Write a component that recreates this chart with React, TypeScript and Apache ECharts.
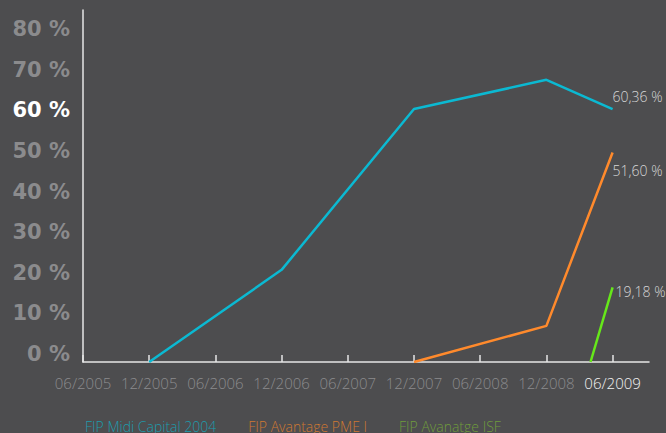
import React, { useEffect, useRef } from "react";
import * as echarts from "echarts";

// x positions are months counted from 06/2005
const xTickMonths = [0, 6, 12, 18, 24, 30, 36, 42, 48];
const xTickLabels = ["06/2005", "12/2005", "06/2006", "12/2006", "06/2007", "12/2007", "06/2008", "12/2008", "06/2009"];
const yTickValues = [0, 10, 20, 30, 40, 50, 60, 70, 80];

const seriesNames = ["FIP Midi Capital 2004", "FIP Avantage PME I", "FIP Avanatge ISF"];
const legendColors = ["#1c9cad", "#cf7832", "#6f9c3c"];
const lineColors = ["#0bb9d2", "#ff8a2c", "#66e81a"];

const midiMonths = [6, 18, 30, 42, 48];
const midiValues = [0, 22.7, 62.3, 69.5, 62.3];
const pmeMonths = [30, 42, 48];
const pmeValues = [0, 8.9, 51.6];
const isfMonths = [46, 48];
const isfValues = [0, 18.4];

const endLabels = ["60,36 %", "51,60 %", "19,18 %"];
const endLabelOffsets = [[0, -13], [0, 18], [3, 4]];

const BG = "#4d4d4f";
const GRAY = "#8b8b8d";

export default function App() {
  const ref = useRef<HTMLDivElement>(null);
  useEffect(() => {
    if (!ref.current) return;
    const chart = echarts.init(ref.current, null, { renderer: "svg" });
    const all = [
      [midiMonths, midiValues],
      [pmeMonths, pmeValues],
      [isfMonths, isfValues],
    ];
    chart.setOption({
      animation: false,
      backgroundColor: BG,
      grid: { left: 83, right: 17, top: 10, bottom: 71, containLabel: false, outerBoundsMode: "none" },
      legend: {
        left: 80,
        top: 419,
        padding: 0,
        itemWidth: 0,
        itemHeight: 14,
        itemGap: 27,
        icon: "rect",
        itemStyle: { opacity: 0 },
        textStyle: { fontFamily: "Open Sans", fontSize: 14, fontWeight: 300 },
        data: seriesNames.map((n, i) => ({ name: n, textStyle: { color: legendColors[i] } })),
      },
      xAxis: {
        type: "value",
        min: 0,
        max: 51.3,
        splitLine: { show: false },
        axisLine: { show: true, lineStyle: { color: "#e6e6e6", width: 1.5 } },
        axisTick: {
          show: true,
          inside: true,
          length: 7,
          customValues: xTickMonths,
          lineStyle: { color: "#e6e6e6", width: 1.5 },
        },
        axisLabel: {
          customValues: xTickMonths,
          margin: 13,
          fontFamily: "Open Sans",
          fontWeight: 300,
          fontSize: 15,
          color: (v: any) => (Number(v) === 48 ? "#f2f2f2" : GRAY),
          formatter: (v: number) => {
            const i = xTickMonths.indexOf(v);
            return i >= 0 ? xTickLabels[i] : "";
          },
        },
      },
      yAxis: {
        type: "value",
        min: 0,
        max: 86.7,
        splitLine: { show: false },
        axisLine: { show: true, lineStyle: { color: "#e6e6e6", width: 1.5 } },
        axisTick: { show: false },
        axisLabel: {
          customValues: yTickValues,
          margin: 13,
          fontFamily: "DejaVu Sans",
          fontWeight: "bold",
          fontSize: 21,
          verticalAlign: "bottom",
          lineHeight: 16,
          color: (v: any) => (Number(v) === 60 ? "#ffffff" : GRAY),
          formatter: (v: number) => `${v} %`,
        },
      },
      series: all.map((pair, i) => ({
        name: seriesNames[i],
        type: "line",
        data: (pair[0] as number[]).map((m, j) => [m, (pair[1] as number[])[j]]),
        symbol: "none",
        showSymbol: false,
        lineStyle: { color: lineColors[i], width: 2.5 },
        itemStyle: { color: lineColors[i] },
        emphasis: { disabled: true },
        endLabel: {
          show: true,
          distance: 0,
          offset: endLabelOffsets[i],
          formatter: endLabels[i],
          color: "#d6d6d6",
          fontFamily: "Open Sans",
          fontWeight: 300,
          fontSize: 14,
        },
      })),
    });
    return () => chart.dispose();
  }, []);
  return <div ref={ref} style={{ position: "fixed", left: 0, top: 0, width: 666, height: 433 }} />;
}
